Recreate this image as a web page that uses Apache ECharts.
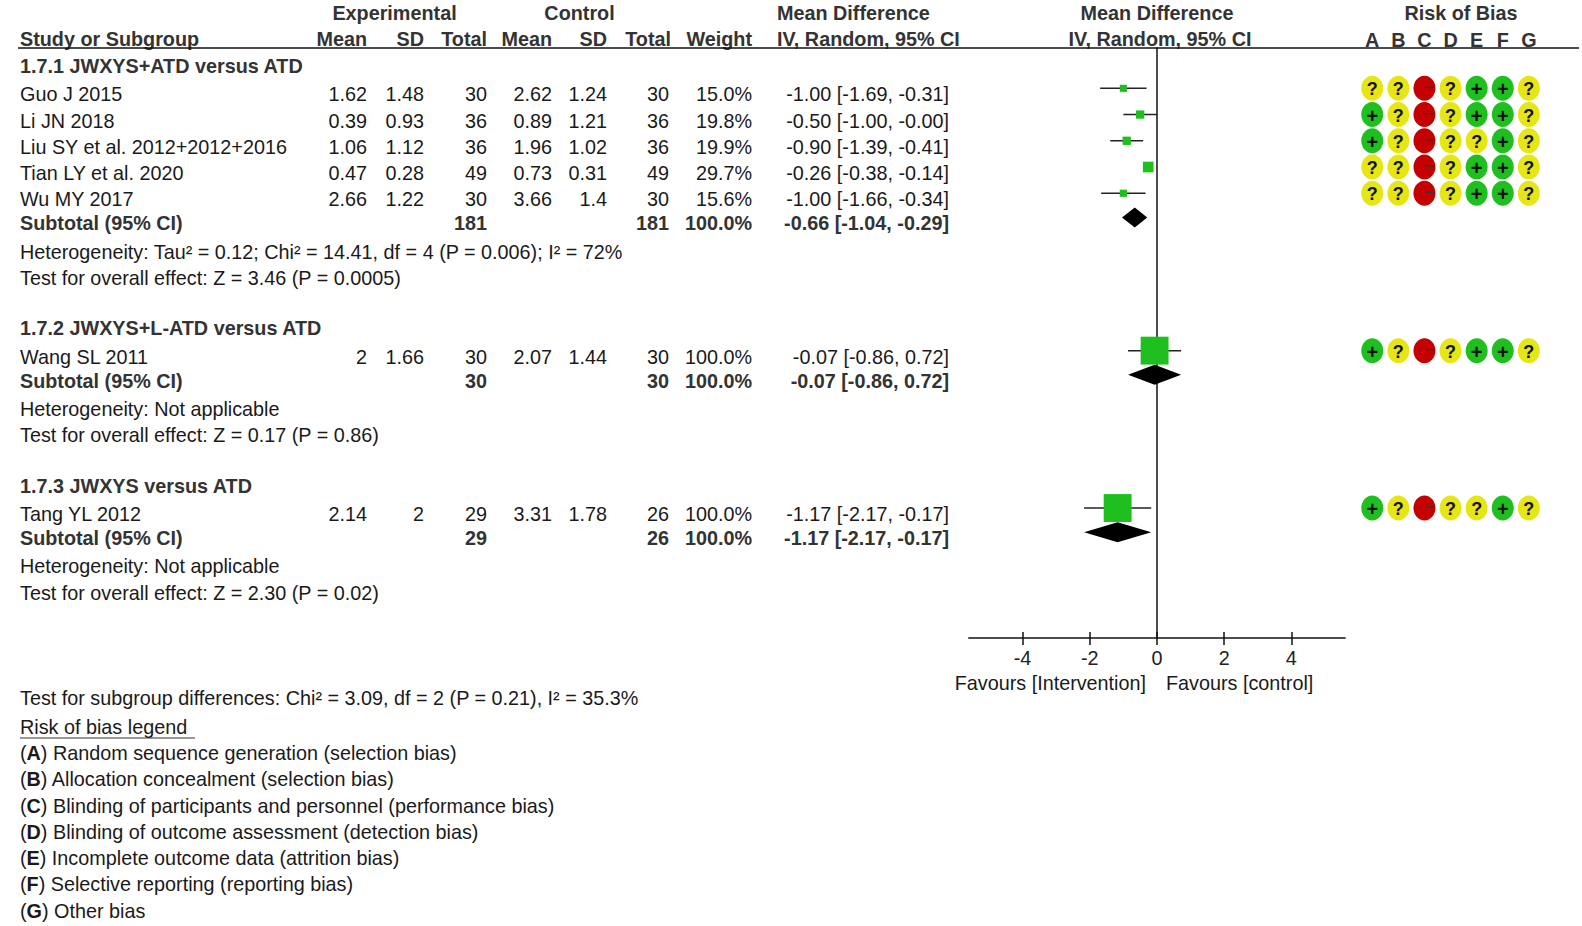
<!DOCTYPE html>
<title>forest</title>
<style>
body {
    margin: 0;
    background: #fff;
}
#echart {
    height: 926px;
    width: 1582px;
}
</style>
<div id='echart'></div>
<script src='https://cdn.jsdelivr.net/npm/echarts@6.0.0/dist/echarts.min.js'></script>
<script>
// data
let groupNames = ['1.7.1 JWXYS+ATD versus ATD', '1.7.2 JWXYS+L-ATD versus ATD', '1.7.3 JWXYS versus ATD']
let studies = ['Guo J 2015', 'Li JN 2018', 'Liu SY et al. 2012+2012+2016', 'Tian LY et al. 2020', 'Wu MY 2017', 'Wang SL 2011', 'Tang YL 2012']
let studyGroup = [0, 0, 0, 0, 0, 1, 2]
let expMean = [1.62, 0.39, 1.06, 0.47, 2.66, 2, 2.14]
let expSD = [1.48, 0.93, 1.12, 0.28, 1.22, 1.66, 2]
let expTotal = [30, 36, 36, 49, 30, 30, 29]
let ctlMean = [2.62, 0.89, 1.96, 0.73, 3.66, 2.07, 3.31]
let ctlSD = [1.24, 1.21, 1.02, 0.31, 1.4, 1.44, 1.78]
let ctlTotal = [30, 36, 36, 49, 30, 30, 26]
let weight = [15.0, 19.8, 19.9, 29.7, 15.6, 100.0, 100.0]
let md = [-1.00, -0.50, -0.90, -0.26, -1.00, -0.07, -1.17]
let lo = [-1.69, -1.00, -1.39, -0.38, -1.66, -0.86, -2.17]
let hi = [-0.31, -0.00, -0.41, -0.14, -0.34, 0.72, -0.17]
let subExpTotal = [181, 30, 29]
let subCtlTotal = [181, 30, 26]
let subWeight = [100.0, 100.0, 100.0]
let subMd = [-0.66, -0.07, -1.17]
let subLo = [-1.04, -0.86, -2.17]
let subHi = [-0.29, 0.72, -0.17]
let heterogeneity = [
    'Heterogeneity: Tau² = 0.12; Chi² = 14.41, df = 4 (P = 0.006); I² = 72%',
    'Heterogeneity: Not applicable',
    'Heterogeneity: Not applicable',
]
let overallEffect = [
    'Test for overall effect: Z = 3.46 (P = 0.0005)',
    'Test for overall effect: Z = 0.17 (P = 0.86)',
    'Test for overall effect: Z = 2.30 (P = 0.02)',
]
let subgroupDifferences = 'Test for subgroup differences: Chi² = 3.09, df = 2 (P = 0.21), I² = 35.3%'
let domains = ['A', 'B', 'C', 'D', 'E', 'F', 'G']
let riskOfBias = ['??-?++?', '+?-?++?', '+?-??+?', '??-?++?', '??-?++?', '+?-?++?', '+?-??+?']
let domainLegend = [
    'Random sequence generation (selection bias)',
    'Allocation concealment (selection bias)',
    'Blinding of participants and personnel (performance bias)',
    'Blinding of outcome assessment (detection bias)',
    'Incomplete outcome data (attrition bias)',
    'Selective reporting (reporting bias)',
    'Other bias',
]
let xTicks = [-4, -2, 0, 2, 4]

// layout
let FONT = '"Liberation Sans", Arial, sans-serif'
let SIZE = 19.8
let ROW = 26.23
let ROW0 = 62.1
let TOP = 48
let AXIS_Y = 638
let yMin = (TOP - ROW0) / ROW
let yMax = (AXIS_Y - ROW0) / ROW
let TEXT_DY = 6
let COL = {expMean: 367, expSD: 424, expTotal: 487, ctlMean: 552, ctlSD: 607, ctlTotal: 669, weight: 752, ci: 949}
let GREEN = '#1fbf1f', YELLOW = '#e6e617', RED = '#c40000'

function fmt(v) {
    return (v < 0 || Object.is(v, -0) ? '-' : '') + Math.abs(v).toFixed(2)
}
function ciText(m, l, h) {
    return `${fmt(m)} [${fmt(l)}, ${fmt(h)}]`
}

// rows of the table
let rows = []
let studyRow = []
let subRow = []
let base = 0
groupNames.forEach(function (name, g) {
    rows.push({kind: 'group', g, r: base - 0.08})
    let members = studies.map((s, i) => i).filter(i => studyGroup[i] == g)
    members.forEach(function (s, k) {
        studyRow[s] = base + 1 + k
        rows.push({kind: 'study', s, r: base + 1 + k})
    })
    let n = members.length
    subRow[g] = base + n + 0.92
    rows.push({kind: 'subtotal', g, r: base + n + 0.92})
    rows.push({kind: 'het', g, r: base + n + 2})
    rows.push({kind: 'test', g, r: base + n + 3})
    base += n + 5
})

let echart = echarts.init(document.querySelector('#echart'), null, {renderer: 'svg'})

let option = {
    animation: false,
    backgroundColor: '#fff',
    grid: [
        {left: 968.8, width: 376.3, top: TOP, height: AXIS_Y - TOP},
        {left: 1359.2, width: 182.7, top: TOP, height: AXIS_Y - TOP},
    ],
    xAxis: [
        {
            gridIndex: 0, type: 'value', min: -5.6, max: 5.6, position: 'bottom',
            axisLine: {onZero: false, lineStyle: {color: '#111', width: 1.5}},
            axisTick: {customValues: xTicks, length: 7, lineStyle: {color: '#111', width: 1.5}},
            axisLabel: {customValues: xTicks, margin: 10, fontSize: SIZE, fontFamily: FONT, color: '#222'},
            splitLine: {show: false},
        },
        {
            gridIndex: 0, type: 'value', min: -5.6, max: 5.6, position: 'bottom',
            axisLine: {show: false, onZero: false},
            axisTick: {customValues: xTicks, inside: true, length: 6, lineStyle: {color: '#111', width: 1.5}},
            axisLabel: {show: false},
            splitLine: {show: false},
        },
        {
            gridIndex: 1, type: 'category', data: domains, position: 'top',
            axisLine: {show: false}, axisTick: {show: false},
            axisLabel: {margin: -2, fontSize: SIZE, fontWeight: 'bold', fontFamily: FONT, color: '#333'},
        },
    ],
    yAxis: [
        {
            gridIndex: 0, type: 'value', inverse: true, min: yMin, max: yMax,
            axisLine: {show: true, onZero: true, lineStyle: {color: '#111', width: 1.5}},
            axisTick: {show: false}, axisLabel: {show: false}, splitLine: {show: false},
        },
        {gridIndex: 1, type: 'value', inverse: true, min: yMin, max: yMax, show: false},
    ],
    series: [
        {
            name: 'studies', type: 'custom', xAxisIndex: 0, yAxisIndex: 0,
            data: studies.map((s, i) => [md[i], lo[i], hi[i], studyRow[i], weight[i]]),
            renderItem: function (params, api) {
                let r = api.value(3)
                let c = api.coord([api.value(0), r])
                let l = api.coord([api.value(1), r])
                let h = api.coord([api.value(2), r])
                let size = 3.4 + 0.245 * api.value(4)
                return {type: 'group', children: [
                    {type: 'line', shape: {x1: l[0], y1: l[1], x2: h[0], y2: h[1]}, style: {stroke: '#222', lineWidth: 1.5}},
                    {type: 'rect', shape: {x: c[0] - size / 2, y: c[1] - size / 2, width: size, height: size}, style: {fill: GREEN}},
                ]}
            },
        },
        {
            name: 'subtotals', type: 'custom', xAxisIndex: 0, yAxisIndex: 0,
            data: groupNames.map((g, i) => [subMd[i], subLo[i], subHi[i], subRow[i]]),
            renderItem: function (params, api) {
                let r = api.value(3)
                let c = api.coord([api.value(0), r])
                let l = api.coord([api.value(1), r])
                let h = api.coord([api.value(2), r])
                return {type: 'polygon', shape: {points: [[l[0], l[1]], [c[0], c[1] - 10], [h[0], h[1]], [c[0], c[1] + 10]]}, style: {fill: '#000'}}
            },
        },
        {
            name: 'risk of bias', type: 'custom', xAxisIndex: 2, yAxisIndex: 1,
            data: studies.flatMap((s, i) => domains.map((d, j) => [j, studyRow[i], i])),
            renderItem: function (params, api) {
                let j = api.value(0)
                let code = riskOfBias[api.value(2)][j]
                let c = api.coord([j, api.value(1)])
                let fill = code == '+' ? GREEN : code == '-' ? RED : YELLOW
                let children = [{type: 'ellipse', shape: {cx: c[0], cy: c[1], rx: 11, ry: 12.5}, style: {fill}}]
                if (code == '-')
                    children.push({type: 'line', shape: {x1: c[0] + 1, y1: c[1] - 1, x2: c[0] + 10, y2: c[1] - 1}, style: {stroke: '#333', lineWidth: 1.3}})
                else
                    children.push({type: 'text', style: {text: code, x: c[0], y: c[1] + 1, align: 'center', verticalAlign: 'middle', font: `bold ${code == '+' ? 20 : 18}px ${FONT}`, fill: '#111'}})
                return {type: 'group', children}
            },
        },
    ],
}
echart.setOption(option)

// table text, placed on the rows of the forest grid
function py(r) {
    return echart.convertToPixel({yAxisIndex: 0}, r) + TEXT_DY
}
function text(x, y, str, bold, align) {
    return {
        type: 'text', x, y, silent: true,
        style: {
            text: str, fontSize: SIZE, fontFamily: FONT, fontWeight: bold ? 'bold' : 'normal',
            fill: bold ? '#333' : '#1a1a1a', align: align || 'left', verticalAlign: 'middle',
        },
    }
}
let graphic = []
// header
graphic.push(text(394.5, 13.3, 'Experimental', true, 'center'))
graphic.push(text(579.5, 13.3, 'Control', true, 'center'))
graphic.push(text(777, 13.3, 'Mean Difference', true))
graphic.push(text(1157, 13.3, 'Mean Difference', true, 'center'))
graphic.push(text(1461, 13.3, 'Risk of Bias', true, 'center'))
graphic.push(text(20, 39.3, 'Study or Subgroup', true))
graphic.push(text(COL.expMean, 39.3, 'Mean', true, 'right'))
graphic.push(text(COL.expSD, 39.3, 'SD', true, 'right'))
graphic.push(text(COL.expTotal, 39.3, 'Total', true, 'right'))
graphic.push(text(COL.ctlMean, 39.3, 'Mean', true, 'right'))
graphic.push(text(COL.ctlSD, 39.3, 'SD', true, 'right'))
graphic.push(text(671, 39.3, 'Total', true, 'right'))
graphic.push(text(COL.weight, 39.3, 'Weight', true, 'right'))
graphic.push(text(777, 39.3, 'IV, Random, 95% CI', true))
graphic.push(text(1160, 39.3, 'IV, Random, 95% CI', true, 'center'))
graphic.push({type: 'line', silent: true, shape: {x1: 18, y1: TOP, x2: 1579, y2: TOP}, style: {stroke: '#111', lineWidth: 1.5}})
// body
for (let row of rows) {
    let y = py(row.r)
    if (row.kind == 'group') graphic.push(text(20, y, groupNames[row.g], true))
    if (row.kind == 'het') graphic.push(text(20, y, heterogeneity[row.g]))
    if (row.kind == 'test') graphic.push(text(20, y, overallEffect[row.g]))
    if (row.kind == 'study') {
        let s = row.s
        graphic.push(text(20, y, studies[s]))
        graphic.push(text(COL.expMean, y, String(expMean[s]), false, 'right'))
        graphic.push(text(COL.expSD, y, String(expSD[s]), false, 'right'))
        graphic.push(text(COL.expTotal, y, String(expTotal[s]), false, 'right'))
        graphic.push(text(COL.ctlMean, y, String(ctlMean[s]), false, 'right'))
        graphic.push(text(COL.ctlSD, y, String(ctlSD[s]), false, 'right'))
        graphic.push(text(COL.ctlTotal, y, String(ctlTotal[s]), false, 'right'))
        graphic.push(text(COL.weight, y, weight[s].toFixed(1) + '%', false, 'right'))
        graphic.push(text(COL.ci, y, ciText(md[s], lo[s], hi[s]), false, 'right'))
    }
    if (row.kind == 'subtotal') {
        let g = row.g
        graphic.push(text(20, y, 'Subtotal (95% CI)', true))
        graphic.push(text(COL.expTotal, y, String(subExpTotal[g]), true, 'right'))
        graphic.push(text(COL.ctlTotal, y, String(subCtlTotal[g]), true, 'right'))
        graphic.push(text(COL.weight, y, subWeight[g].toFixed(1) + '%', true, 'right'))
        graphic.push(text(COL.ci, y, ciText(subMd[g], subLo[g], subHi[g]), true, 'right'))
    }
}
// axis captions
graphic.push(text(1146, 683, 'Favours [Intervention]', false, 'right'))
graphic.push(text(1166, 683, 'Favours [control]', false, 'left'))
// footer
graphic.push(text(20, py(24), subgroupDifferences))
graphic.push(text(20, py(25.12), 'Risk of bias legend'))
graphic.push({type: 'line', silent: true, shape: {x1: 20, y1: py(25.12) + 11, x2: 195, y2: py(25.12) + 11}, style: {stroke: '#333', lineWidth: 1}})
domainLegend.forEach(function (desc, k) {
    let el = text(20, py(26.12 + k), `({b|${domains[k]}}) ${desc}`)
    el.style.rich = {b: {fontWeight: 'bold', fontSize: SIZE, fontFamily: FONT, fill: '#1a1a1a'}}
    graphic.push(el)
})
echart.setOption({graphic})
addEventListener('resize', function () {echart.resize()})
</script>
